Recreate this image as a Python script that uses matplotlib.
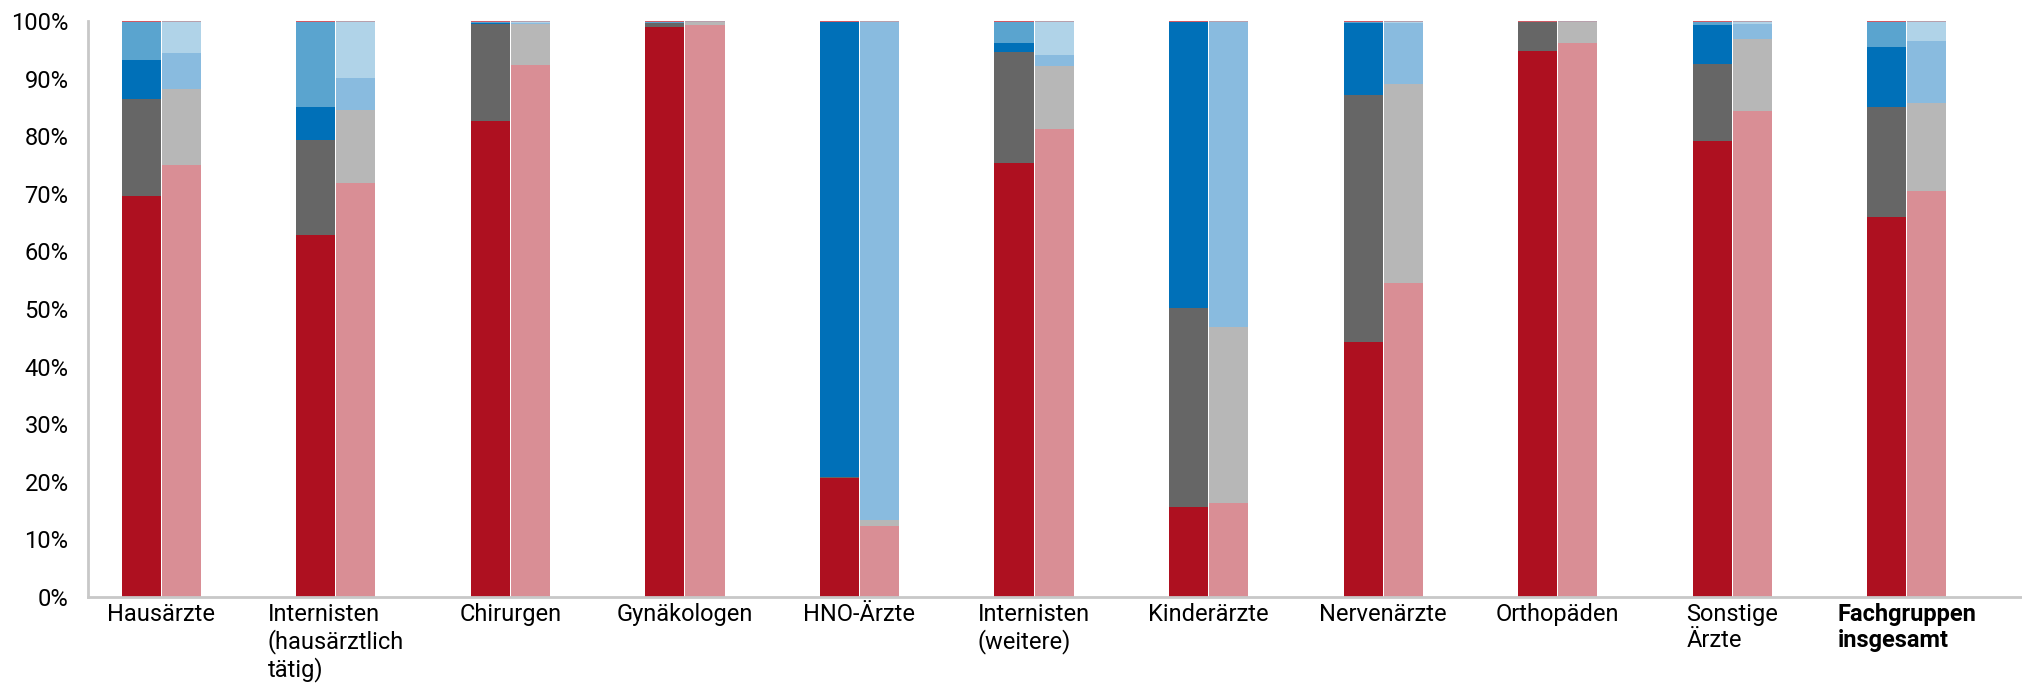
import numpy as np
import matplotlib.pyplot as plt

plt.rcParams['font.family'] = ['Roboto', 'DejaVu Sans']

# Fachgruppen
groups = ['Hausärzte', 'Internisten\n(hausärztlich\ntätig)', 'Chirurgen', 'Gynäkologen',
          'HNO-Ärzte', 'Internisten\n(weitere)', 'Kinderärzte', 'Nervenärzte',
          'Orthopäden', 'Sonstige\nÄrzte', 'Fachgruppen\ninsgesamt']

# linke Säule (dunkle Farben), Anteile in %
a_rot   = [69.7, 62.9, 82.7, 99.0, 20.6, 75.4, 15.6, 44.3, 94.8, 79.2, 66.0]
a_grau  = [16.8, 16.5, 16.7,  0.6,  0.2, 19.2, 34.6, 42.9,  5.0, 13.3, 19.1]
a_blau  = [ 6.8,  5.7,  0.2,  0.1, 79.0,  1.5, 49.6, 12.4,  0.0,  6.8, 10.3]
a_mblau = [ 6.5, 14.7,  0.2,  0.1,  0.0,  3.7,  0.0,  0.2,  0.0,  0.5,  4.4]
a_rest  = [ 0.2,  0.2,  0.2,  0.2,  0.2,  0.2,  0.2,  0.2,  0.2,  0.2,  0.2]

# rechte Säule (helle Farben), Anteile in %
b_rot   = [75.0, 71.9, 92.4, 99.3, 12.4, 81.3, 16.3, 54.5, 96.2, 84.4, 70.5]
b_grau  = [13.2, 12.6,  7.1,  0.5,  1.0, 10.9, 30.5, 34.5,  3.6, 12.5, 15.2]
b_blau  = [ 6.2,  5.6,  0.2,  0.0, 86.4,  1.9, 53.0, 10.6,  0.0,  2.6, 10.9]
b_mblau = [ 5.4,  9.7,  0.1,  0.0,  0.0,  5.7,  0.0,  0.2,  0.0,  0.3,  3.2]
b_rest  = [ 0.2,  0.2,  0.2,  0.2,  0.2,  0.2,  0.2,  0.2,  0.2,  0.2,  0.2]

farben_a = ['#ae1020', '#666666', '#0070b8', '#5aa4cf', '#d05a64']
farben_b = ['#d98e95', '#b7b7b7', '#89bbdf', '#b0d3e8', '#b8a0ac']

x = np.arange(len(groups))
w = 0.224

fig = plt.figure(figsize=(20.22, 6.83), dpi=100)
ax = fig.add_axes([0.0435, 0.1259, 1 - 0.0435, 0.9693 - 0.1259])

def stapel(pos, reihen, farben):
    unten = np.zeros(len(groups))
    for werte, f in zip(reihen, farben):
        ax.bar(pos, werte, w, bottom=unten, color=f, linewidth=0)
        unten += np.array(werte)

stapel(x - 0.115, [a_rot, a_grau, a_blau, a_mblau, a_rest], farben_a)
stapel(x + 0.115, [b_rot, b_grau, b_blau, b_mblau, b_rest], farben_b)

ax.set_xlim(-0.42, 10.66)
ax.set_ylim(0, 100)
ax.set_yticks(np.arange(0, 101, 10))
ax.set_yticklabels([f'{v}%' for v in range(0, 101, 10)], fontsize=17)
ax.tick_params(axis='y', length=0, pad=14)
ax.tick_params(axis='x', length=0, pad=4)
ax.set_xticks(x)
labels = ax.set_xticklabels(groups, fontsize=17, multialignment='left', linespacing=1.18)
labels[-1].set_fontweight('bold')

for s in ['top', 'right']:
    ax.spines[s].set_visible(False)
for s in ['left', 'bottom']:
    ax.spines[s].set_color('#c8c8c8')
    ax.spines[s].set_linewidth(2)

fig.savefig('out.png', dpi=100)
